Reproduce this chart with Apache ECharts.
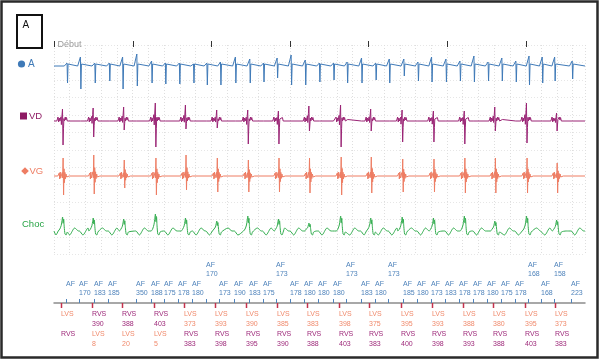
<!DOCTYPE html>
<html><head><meta charset="utf-8">
<script src="https://cdn.jsdelivr.net/npm/echarts@6.0.0/dist/echarts.min.js"></script>
<style>html,body{margin:0;padding:0;background:#fff}#c{width:600px;height:360px}</style>
</head><body><div id="c"></div>
<script>
// ---------------- data ----------------
const panelLetter = 'A';
const channelNames = ['A', 'VD', 'VG', 'Choc'];
const startLabel = 'Début';
const secondTicks = [0, 1000, 2000, 3000, 4000, 5000, 6000];   // ms
const stripEnd = 6756;                                        // ms

// atrial sensed events (ms) and their interval labels
const afTimes = [153, 323, 506, 691, 1041, 1229, 1404, 1582, 1762, 1932, 2105, 2295, 2478, 2653, 2826, 3004, 3184, 3364, 3544, 3717, 3900, 4080, 4253, 4438, 4618, 4791, 4974, 5152, 5330, 5510, 5685, 5863, 6031, 6199, 6357, 6580];
const afLabels = ['', '170', '183', '185', '350', '188', '175', '178', '180', '170', '173', '190', '183', '175', '173', '178', '180', '180', '180', '173', '183', '180', '173', '185', '180', '173', '183', '178', '178', '180', '175', '178', '168', '168', '158', '223'];
const afRaised = [9, 14, 19, 22, 32, 34];   // labels drawn on the upper row
// atrial spike amplitudes (up / down)
const aUp   = [3, 9, 3, 3, 12, 5, 3, 3, 2, 3, 4, 9, 7, 3, 8, 11, 6, 3, 3, 4, 8, 3, 7, 7, 4, 9, 7, 5, 10, 4, 8, 5, 10, 9, 9, 5];
const aDown = [17, 23, 17, 15, 20, 17, 18, 18, 17, 19, 19, 17, 17, 16, 12, 19, 19, 16, 14, 17, 17, 14, 17, 10, 15, 16, 16, 15, 16, 15, 15, 16, 19, 17, 15, 13];
const aHiddenTimes = [860], aHiddenUp = [9], aHiddenDown = [23];

// ventricular sensed events (ms) and labels
const vTimes = [89, 479, 867, 1270, 1653, 2051, 2446, 2836, 3224, 3627, 4010, 4410, 4808, 5201, 5589, 5992, 6375];
const vTopLabel = ['LVS', 'RVS', 'RVS', 'RVS', 'LVS', 'LVS', 'LVS', 'LVS', 'LVS', 'LVS', 'LVS', 'LVS', 'LVS', 'LVS', 'LVS', 'LVS', 'LVS'];
const lvsVals = ['', '8', '20', '5', '373', '393', '390', '385', '383', '398', '375', '395', '393', '388', '380', '395', '373'];
const rvsVals = ['', '390', '388', '403', '383', '398', '395', '390', '388', '403', '383', '400', '398', '393', '388', '403', '383'];
const vdUp   = [12, 13, 14, 18, 16, 11, 11, 10, 15, 16, 12, 11, 10, 10, 14, 18, 8];
const vdDown = [24, 16, 9, 26, 8, 7, 23, 23, 10, 26, 10, 21, 21, 23, 10, 22, 10];
const vgUp   = [18, 21, 16, 18, 21, 18, 16, 18, 18, 19, 19, 17, 17, 18, 18, 18, 13];
const vgDown = [19, 18, 12, 19, 14, 16, 16, 16, 17, 19, 17, 16, 16, 17, 17, 17, 17];
const chocUp = [14, 13, 12, 17, 13, 10, 15, 12, 8, 15, 13, 14, 13, 15, 10, 15, 11];

// waveform morphologies: [dt ms, amplitude, kind] (c: fixed, u: x up, d: x down)
const aShape = [[-40,0,'c'],[-26,2,'c'],[-18,0,'c'],[-5,1,'u'],[1,-1,'d'],[8,2,'c'],[16,1,'c'],[32,0,'c']];
const aDelay = 18;
const vdShape = [[-75,0,'c'],[-60,4,'c'],[-52,-1,'c'],[-44,3,'c'],[-36,0,'c'],[-22,0.35,'u'],[-17,-0.15,'d'],[-9,0.5,'u'],[-3,1,'u'],[4,-1,'d'],[10,-0.3,'d'],[15,0.2,'u'],[22,0,'c'],[32,4,'c'],[40,1,'c'],[48,3.5,'c'],[58,0,'c'],[75,0,'c']];
const vdDelay = 22;
const vdBlip = [[-8,0,'c'],[0,1.5,'c'],[8,0,'c']];
const vgShape = [[-70,0,'c'],[-52,3,'c'],[-46,-3,'c'],[-40,4,'c'],[-34,-2,'c'],[-26,0,'c'],[-14,0.2,'u'],[-9,-0.1,'d'],[-3,1,'u'],[3,-1,'d'],[9,0.4,'u'],[14,-0.35,'d'],[20,0.2,'u'],[26,-0.15,'d'],[34,2,'c'],[42,-1,'c'],[55,0,'c'],[75,0,'c']];
const vgDelay = 30;
const chocShape = [[-60,0,'c'],[-40,2,'c'],[-22,0.4,'u'],[-12,0.75,'u'],[-5,1,'u'],[2,0.55,'u'],[9,0.85,'u'],[16,0.3,'u'],[26,-3,'c'],[40,-4,'c'],[55,-1,'c']];
const chocDelay = 25;
const chocWave = [[0,0,'c'],[45,-4,'c'],[110,3,'c'],[160,0,'c']];

// ---------------- build traces ----------------
function amp(v, k, u, d) { return k === 'u' ? v * u : k === 'd' ? v * d : v; }
function stamp(shape, t0, u, d, pts, keep) {
  shape.forEach(([dt, v, k]) => {
    const t = t0 + dt;
    if (t < 0 || t > stripEnd) return;
    if (keep && !keep(t)) return;
    pts.push([t, amp(v, k, u, d)]);
  });
}
function finish(pts) { pts.push([0, 0], [stripEnd, 0]); pts.sort((a, b) => a[0] - b[0]); return pts; }
function nearV(t, before, after) { return vTimes.some(v => t > v - before && t < v + after); }

const traceA = [];
afTimes.forEach((t, i) => stamp(aShape, t + aDelay, aUp[i], aDown[i], traceA));
aHiddenTimes.forEach((t, i) => stamp(aShape, t + aDelay, aHiddenUp[i], aHiddenDown[i], traceA));
finish(traceA);

const traceVD = [];
vTimes.forEach((t, i) => stamp(vdShape, t + vdDelay, vdUp[i], vdDown[i], traceVD));
afTimes.forEach(t => stamp(vdBlip, t + 20, 1, 1, traceVD, tt => !nearV(tt, 70, 110)));
finish(traceVD);

const traceVG = [];
vTimes.forEach((t, i) => stamp(vgShape, t + vgDelay, vgUp[i], vgDown[i], traceVG));
finish(traceVG);

const traceChoc = [];
vTimes.forEach((t, i) => stamp(chocShape, t + chocDelay, chocUp[i], 1, traceChoc));
const waveStarts = [-20].concat(afTimes);
waveStarts.forEach((t, i) => {
  const next = i + 1 < waveStarts.length ? waveStarts[i + 1] : stripEnd;
  stamp(chocWave, t, 1, 1, traceChoc, tt => tt < next && !nearV(tt, 45, 100));
});
finish(traceChoc);

// ---------------- layout / style ----------------
const FONT = '"Liberation Sans", Arial, sans-serif';
const COL = { A: '#3f7ab8', VD: '#9a2475', VG: '#ee7d63', Choc: '#32ad4e' };
const AF_COL = '#4f83bb', LVS_COL = '#f08a6c', RVS_COL = '#9e2a7a', V_TICK = '#c4324c';
const LEFT = 54, RIGHT = 15;
const rows = [
  { top: 38, height: 56, base: 66 },
  { top: 94, height: 56, base: 121 },
  { top: 150, height: 54, base: 176 },
  { top: 204, height: 54, base: 231 }
];
const traces = [traceA, traceVD, traceVG, traceChoc];
const colors = [COL.A, COL.VD, COL.VG, COL.Choc];

const grids = [{ left: LEFT, right: RIGHT, top: 45, height: 209.5, outerBoundsMode: 'none' }];
const xAxes = [{ type: 'value', gridIndex: 0, min: 0, max: stripEnd, interval: 200, show: true,
  axisLine: { show: false }, axisTick: { show: false }, axisLabel: { show: false },
  splitLine: { show: true, lineStyle: { color: '#dedede', type: [1, 2], width: 1 } } }];
const yAxes = [{ type: 'value', gridIndex: 0, min: 0, max: 12, interval: 1,
  axisLine: { show: false }, axisTick: { show: false }, axisLabel: { show: false },
  splitLine: { show: true, lineStyle: { color: '#e6e6e6', type: [1, 2], width: 1 } } }];
const series = [];
rows.forEach((r, i) => {
  const gi = i + 1;
  grids.push({ left: LEFT, right: RIGHT, top: r.top, height: r.height, outerBoundsMode: 'none' });
  xAxes.push({ type: 'value', gridIndex: gi, min: 0, max: stripEnd, show: false });
  yAxes.push({ type: 'value', gridIndex: gi, min: -(r.top + r.height - r.base), max: r.base - r.top, show: false });
  series.push({ type: 'line', xAxisIndex: gi, yAxisIndex: gi, data: traces[i], showSymbol: false, symbol: 'none',
    smooth: i === 3 ? 0.25 : false, clip: false, silent: true, z: 3,
    lineStyle: { color: colors[i], width: 1 } });
});
// marker strip
grids.push({ left: LEFT, right: RIGHT, top: 302, height: 1, outerBoundsMode: 'none' });
xAxes.push({ type: 'value', gridIndex: 5, min: 0, max: stripEnd, axisLine: { show: true, lineStyle: { color: '#8c8c8c', width: 1.5 } },
  axisTick: { show: false }, axisLabel: { show: false }, splitLine: { show: false } });
yAxes.push({ type: 'value', gridIndex: 5, min: 0, max: 1, show: false });

function txt(text, x, y, fill, size) {
  return { type: 'text', style: { text, x, y, fill, fontSize: size || 7, fontFamily: FONT, align: 'left', verticalAlign: 'middle' } };
}

// second ticks + start label on the A row
series.push({ type: 'custom', xAxisIndex: 1, yAxisIndex: 1, clip: false, silent: true, z: 5,
  data: secondTicks.map(t => [t, 0]),
  renderItem(params, api) {
    const x = Math.round(api.coord([api.value(0), 0])[0]) + 0.5;
    const y0 = params.coordSys.y;
    const ch = [{ type: 'line', shape: { x1: x, y1: y0 + 3, x2: x, y2: y0 + 9 }, style: { stroke: '#333', lineWidth: 1 } }];
    if (params.dataIndex === 0) ch.push(txt(startLabel, x + 3, y0 + 6.5, '#999', 9));
    return { type: 'group', children: ch };
  } });

// atrial markers
series.push({ type: 'custom', xAxisIndex: 5, yAxisIndex: 5, clip: false, silent: true, z: 5,
  data: afTimes.map((t, i) => [t, 0, i]),
  renderItem(params, api) {
    const i = api.value(2);
    const p = api.coord([api.value(0), 0]);
    const x = Math.round(p[0]) + 0.5, y0 = p[1];
    const base = afRaised.indexOf(i) >= 0 ? y0 - 38 : y0 - 19;
    const ch = [{ type: 'line', shape: { x1: x, y1: y0 - 4, x2: x, y2: y0 }, style: { stroke: AF_COL, lineWidth: 1 } },
      txt('AF', x - 0.5, base, AF_COL)];
    if (afLabels[i]) ch.push(txt(afLabels[i], x - 0.5, base + 9.5, AF_COL));
    return { type: 'group', children: ch };
  } });

// ventricular markers
series.push({ type: 'custom', xAxisIndex: 5, yAxisIndex: 5, clip: false, silent: true, z: 5,
  data: vTimes.map((t, i) => [t, 0, i]),
  renderItem(params, api) {
    const i = api.value(2);
    const p = api.coord([api.value(0), 0]);
    const x = Math.round(p[0]) + 0.5, y0 = p[1];
    const first = vTopLabel[i];
    const order = first === 'LVS' ? ['LVS', 'RVS'] : ['RVS', 'LVS'];
    const ch = [{ type: 'line', shape: { x1: x, y1: y0, x2: x, y2: y0 + 5 }, style: { stroke: V_TICK, lineWidth: 1.5 } }];
    order.forEach((lab, k) => {
      const col = lab === 'LVS' ? LVS_COL : RVS_COL;
      const val = lab === 'LVS' ? lvsVals[i] : rvsVals[i];
      ch.push(txt(lab, x - 0.5, y0 + 11.5 + k * 20, col));
      if (val) ch.push(txt(val, x - 0.5, y0 + 21 + k * 20, col));
    });
    return { type: 'group', children: ch };
  } });

// channel labels, panel letter, frame
const labelY = [64, 116, 171, 224];
const graphic = [
  { type: 'rect', shape: { x: 1.5, y: 1.5, width: 596, height: 356 }, style: { fill: null, stroke: '#2a2a2a', lineWidth: 2.5 }, z: 10 },
  { type: 'rect', shape: { x: 17, y: 15, width: 25, height: 33 }, style: { fill: null, stroke: '#111', lineWidth: 2 } },
  { type: 'text', style: { text: panelLetter, x: 22.5, y: 25, fill: '#111', fontSize: 10, fontFamily: FONT, align: 'left', verticalAlign: 'middle' } },
  { type: 'circle', shape: { cx: 21.5, cy: labelY[0], r: 3.6 }, style: { fill: COL.A } },
  { type: 'text', style: { text: channelNames[0], x: 28, y: labelY[0], fill: COL.A, fontSize: 10, fontFamily: FONT, align: 'left', verticalAlign: 'middle' } },
  { type: 'rect', shape: { x: 20, y: labelY[1] - 3.5, width: 7, height: 7 }, style: { fill: '#8e1a63' } },
  { type: 'text', style: { text: channelNames[1], x: 29, y: labelY[1], fill: '#8e1a63', fontSize: 9.5, fontFamily: FONT, align: 'left', verticalAlign: 'middle' } },
  { type: 'polygon', shape: { points: [[25, labelY[2] - 3.8], [28.8, labelY[2]], [25, labelY[2] + 3.8], [21.2, labelY[2]]] }, style: { fill: COL.VG } },
  { type: 'text', style: { text: channelNames[2], x: 29.5, y: labelY[2], fill: COL.VG, fontSize: 9.5, fontFamily: FONT, align: 'left', verticalAlign: 'middle' } },
  { type: 'text', style: { text: channelNames[3], x: 22, y: labelY[3], fill: '#27a345', fontSize: 9.5, fontFamily: FONT, align: 'left', verticalAlign: 'middle' } }
];

const chart = echarts.init(document.getElementById('c'), null, { renderer: 'canvas' });
chart.setOption({
  animation: false,
  backgroundColor: '#fff',
  grid: grids, xAxis: xAxes, yAxis: yAxes, series, graphic
});
</script></body></html>
